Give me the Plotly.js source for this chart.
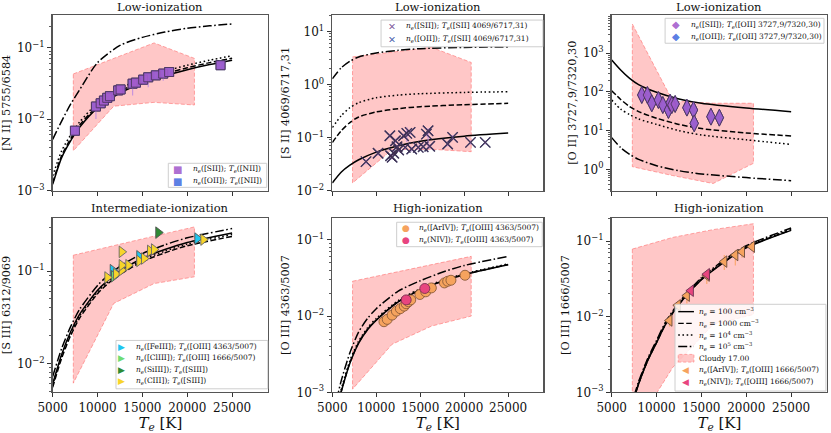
<!DOCTYPE html>
<html><head><meta charset="utf-8">
<script src="https://cdn.plot.ly/plotly-3.0.1.min.js"></script>
<style>html,body{margin:0;padding:0;background:#fff;}#chart{width:831px;height:433px;}</style>
</head><body><div id="chart"></div>
<script>
// ---------------- DATA ----------------
const X_TICKS = [5000, 10000, 15000, 20000, 25000];
const X_TICK_TEXT = ['5000', '10000', '15000', '20000', '25000'];

const CLOUDY_TE = [7300, 11800, 16300, 20800];

// Panel 1: [N II] 5755/6584
const TE_P1 = [5000, 6000, 7000, 8000, 10000, 12500, 15000, 17500, 20000, 22500, 25000];
const NII_NE1E2 = [0.00122, 0.00289, 0.00497, 0.00767, 0.0144, 0.0232, 0.0321, 0.0407, 0.0494, 0.0582, 0.067];
const NII_NE1E3 = [0.00128, 0.0031, 0.0053, 0.0082, 0.0153, 0.0246, 0.034, 0.0432, 0.0525, 0.062, 0.0715];
const NII_NE1E4 = [0.0016, 0.0036, 0.006, 0.0091, 0.0168, 0.0268, 0.0372, 0.047, 0.057, 0.067, 0.0775];
const NII_NE1E5 = [0.0052, 0.0094, 0.0162, 0.0258, 0.062, 0.108, 0.14, 0.166, 0.188, 0.203, 0.216];
const NII_CLOUDY_TOP = [0.043, 0.071, 0.117, 0.071];
const NII_CLOUDY_BOT = [0.0036, 0.0152, 0.0172, 0.0158];
const NII_OBS_TE = [7480, 9820, 10350, 10710, 11080, 11380, 12300, 12570, 13910, 14280, 15090, 15650, 16500, 17320, 17980, 23710];
const NII_OBS = [0.00689, 0.01503, 0.0167, 0.01823, 0.0199, 0.0210, 0.0253, 0.0261, 0.0314, 0.0325, 0.0358, 0.0386, 0.0411, 0.0435, 0.0458, 0.0570];
const NII_ERR_UP = [0.0008, 0.002, 0.002, 0.002, 0.002, 0.002, 0.003, 0.002, 0.003, 0.003, 0.003, 0.003, 0.003, 0.003, 0.003, 0.003];
const NII_ERR_DN = [0.0008, 0.005, 0.002, 0.002, 0.002, 0.002, 0.004, 0.002, 0.010, 0.003, 0.004, 0.0105, 0.003, 0.009, 0.004, 0.003];

// Panel 2: [S II] 4069/6717,31
const TE_P2 = [5000, 6000, 7000, 8000, 10000, 12500, 15000, 20000, 25000];
const SII_NE1E2 = [0.0139, 0.0221, 0.0300, 0.0380, 0.0530, 0.0700, 0.0850, 0.1060, 0.1210];
const SII_NE1E3 = [0.0805, 0.133, 0.191, 0.244, 0.303, 0.35, 0.381, 0.416, 0.44];
const SII_NE1E4 = [0.154, 0.255, 0.365, 0.453, 0.562, 0.63, 0.668, 0.708, 0.729];
const SII_NE1E5 = [1.28, 2.05, 2.74, 3.30, 3.93, 4.40, 4.73, 5.0, 5.1];
const SII_CLOUDY_TOP = [3.3, 4.1, 5.0, 2.6];
const SII_CLOUDY_BOT = [0.0139, 0.059, 0.06, 0.054];
const SII_OBS_TE = [8835, 10206, 11544, 11622, 11800, 11990, 12180, 12358, 12547, 13105, 13294, 13473, 13852, 14030, 14777, 15334, 15702, 15892, 16081, 18121, 18679, 20719, 22391];
const SII_OBS = [0.0350, 0.0503, 0.1076, 0.0454, 0.0424, 0.0503, 0.0867, 0.0670, 0.0581, 0.1076, 0.0652, 0.1194, 0.1247, 0.0605, 0.0652, 0.0670, 0.1159, 0.1336, 0.0681, 0.0752, 0.1005, 0.0809, 0.0809];
const SII_ERR_UP = [0.004, 0.005, 0.01, 0.004, 0.004, 0.005, 0.008, 0.006, 0.005, 0.01, 0.006, 0.035, 0.012, 0.006, 0.006, 0.006, 0.01, 0.015, 0.006, 0.007, 0.01, 0.007, 0.007];
const SII_ERR_DN = [0.004, 0.005, 0.01, 0.004, 0.004, 0.005, 0.008, 0.006, 0.005, 0.01, 0.006, 0.038, 0.012, 0.006, 0.006, 0.006, 0.01, 0.07, 0.006, 0.007, 0.01, 0.007, 0.007];

// Panel 3: [O II] 3727,9/7320,30
const TE_P3 = [5000, 6000, 7000, 8000, 10000, 12500, 15000, 20000, 25000];
const OII_NE1E2 = [673, 371, 225, 155, 98, 66, 51, 38.5, 31];
const OII_NE1E3 = [108, 64, 42, 31, 21, 14.5, 11.3, 8.7, 7.3];
const OII_NE1E4 = [62, 36, 26, 20, 14.5, 10, 7.7, 5.8, 4.4];
const OII_NE1E5 = [6.6, 3.63, 2.44, 1.81, 1.24, 0.92, 0.76, 0.61, 0.51];
const OII_CLOUDY_TOP = [5700, 58, 51, 51];
const OII_CLOUDY_BOT = [1.17, 0.69, 0.43, 1.43];
const OII_OBS_TE = [8352, 8978, 9469, 10207, 10698, 11324, 11514, 11704, 12073, 13380, 14117, 14196, 16061, 17000];
const OII_OBS = [83.4, 83.4, 50.9, 62, 46, 34.2, 52.7, 46, 48.9, 39.2, 34.2, 15.5, 22.9, 21.6];

// Panel 4: [S III] 6312/9069
const TE_P4 = [5000, 6000, 7000, 8000, 10000, 11000, 12500, 15000, 17500, 20000, 25000];
const SIII_NE1E2 = [0.006, 0.0125, 0.022, 0.034, 0.062, 0.077, 0.1, 0.138, 0.172, 0.205, 0.26];
const SIII_NE1E3 = [0.0055, 0.0114, 0.0200, 0.031, 0.057, 0.071, 0.092, 0.127, 0.158, 0.189, 0.238];
const SIII_NE1E4 = [0.0058, 0.012, 0.021, 0.0326, 0.0595, 0.074, 0.096, 0.132, 0.165, 0.197, 0.25];
const SIII_NE1E5 = [0.0072, 0.0145, 0.025, 0.0385, 0.07, 0.087, 0.113, 0.155, 0.193, 0.23, 0.29];
const SIII_CLOUDY_TOP = [0.149, 0.19, 0.24, 0.302];
const SIII_CLOUDY_BOT = [0.0061, 0.0447, 0.0734, 0.0869];
const SIII_FEIII_TE = [11690, 14650, 21120];
const SIII_FEIII = [0.1026, 0.145, 0.226];
const SIII_CLIII_TE = [11830];
const SIII_CLIII = [0.088];
const SIII_SIIII_TE = [16770];
const SIII_SIIII = [0.262];
const SIII_CIII_TE = [11090, 12060, 12690, 12690, 13430, 12690, 14650, 15180, 15850, 16290, 21790];
const SIII_CIII = [0.0855, 0.093, 0.1026, 0.116, 0.116, 0.162, 0.129, 0.137, 0.166, 0.172, 0.220];

// Panel 5: [O III] 4363/5007
const TE_P5 = [5500, 6000, 7000, 8000, 9000, 10000, 12500, 15000, 17500, 20000, 25000];
const OIII4363_NE1E2 = [0.0006, 0.001, 0.0024, 0.0044, 0.0066, 0.0088, 0.0153, 0.022, 0.0285, 0.0349, 0.0472];
const OIII4363_NE1E3 = [0.00061, 0.00102, 0.00245, 0.0045, 0.0067, 0.0089, 0.0155, 0.0222, 0.0287, 0.0351, 0.0475];
const OIII4363_NE1E4 = [0.00065, 0.00108, 0.0026, 0.0047, 0.007, 0.0093, 0.016, 0.0228, 0.0294, 0.0358, 0.0483];
const OIII4363_NE1E5 = [0.0008, 0.0014, 0.0033, 0.0062, 0.0093, 0.0125, 0.0212, 0.029, 0.0375, 0.046, 0.0607];
const OIII4363_CLOUDY_TOP = [0.0286, 0.0368, 0.0472, 0.0607];
const OIII4363_CLOUDY_BOT = [0.0011, 0.00427, 0.0074, 0.01];
const OIII4363_ARIV_TE = [10874, 11245, 11803, 12286, 12732, 13178, 13401, 13662, 13922, 14963, 15632, 16264, 17751, 18123, 18494, 20093];
const OIII4363_ARIV = [0.00843, 0.00905, 0.0103, 0.0116, 0.0125, 0.0135, 0.0145, 0.0154, 0.0163, 0.0192, 0.0208, 0.0234, 0.0272, 0.0286, 0.0295, 0.0343];
const OIII4363_NIV_TE = [13401, 15520];
const OIII4363_NIV = [0.0163, 0.0230];

// Panel 6: [O III] 1666/5007
const TE_P6 = [7500, 8000, 9000, 10000, 11000, 12500, 15000, 17500, 20000, 25000];
const OIII1666_NE1E2 = [0.00083, 0.00129, 0.0026, 0.00453, 0.0079, 0.0145, 0.0308, 0.0525, 0.0817, 0.139];
const OIII1666_NE1E3 = [0.00084, 0.0013, 0.00262, 0.00457, 0.008, 0.0147, 0.0311, 0.053, 0.0826, 0.141];
const OIII1666_NE1E4 = [0.00087, 0.00134, 0.0027, 0.0047, 0.0082, 0.015, 0.0318, 0.054, 0.084, 0.144];
const OIII1666_NE1E5 = [0.0009, 0.00138, 0.00278, 0.00485, 0.0085, 0.0155, 0.0328, 0.056, 0.087, 0.149];
const OIII1666_CLOUDY_TOP = [0.0785, 0.112, 0.142, 0.17];
const OIII1666_CLOUDY_BOT = [0.0003, 0.00213, 0.0079, 0.0107];
const OIII1666_ARIV_TE = [11443, 12374, 13380, 15600, 17551, 18780, 19525, 20642];
const OIII1666_ARIV = [0.00891, 0.01416, 0.0190, 0.0350, 0.0536, 0.0655, 0.0724, 0.0844];
const OIII1666_ERR_UP = [0.0015, 0.002, 0.003, 0.006, 0.012, 0.01, 0.01, 0.008];
const OIII1666_ERR_DN = [0.0015, 0.0025, 0.004, 0.008, 0.012, 0.018, 0.012, 0.01];
const OIII1666_NIV_TE = [13827, 15615];
const OIII1666_NIV = [0.0221, 0.0365];

const PANEL_TITLES = ['Low-ionization', 'Low-ionization', 'Low-ionization', 'Intermediate-ionization', 'High-ionization', 'High-ionization'];
const Y_TITLES = ['[N II] 5755/6584', '[S II] 4069/6717,31', '[O II] 3727,9/7320,30', '[S III] 6312/9069', '[O III] 4363/5007', '[O III] 1666/5007'];
const Y_RANGES = [[-3, -0.54], [-2, 1.31], [-0.548, 3.99], [-2.314, -0.42], [-3, -0.71], [-3, -0.69]];
const Y_DECADES = [[-3, -1], [-2, 1], [0, 3], [-2, -1], [-3, -1], [-3, -1]];

// ---------------- STYLE ----------------
const SERIF = 'DejaVu Serif, serif';
const COL_X = [[0.0634, 0.3225], [0.3999, 0.6538], [0.7361, 0.9952]];
const ROW_Y = [[0.5600, 0.9654], [0.0940, 0.4972]];
const DASH = {solid: 'solid', dashed: '5.5px,2.5px', dotted: '1.6px,2.6px', dashdot: '9px,2.5px,1.6px,2.5px'};
const SHADE_FILL = 'rgba(255,100,100,0.36)';
const SHADE_LINE = 'rgba(255,120,120,0.75)';
const PURPLE = 'rgba(163,92,204,0.9)';
const BLUE = 'rgba(70,110,225,0.9)';
const CYAN = '#1fc6ef', LGREEN = '#6fdc72', DGREEN = '#2e8b34', GOLD = '#f7d42a';
const ORANGE = '#f6a35e', PINK = '#e8457f';

function axn(i) { return i === 0 ? '' : String(i + 1); }

const traces = [];
function shade(i, top, bot) {
  traces.push({type: 'scatter', mode: 'lines', xaxis: 'x' + axn(i), yaxis: 'y' + axn(i),
    x: CLOUDY_TE.concat(CLOUDY_TE.slice().reverse()).concat([CLOUDY_TE[0]]),
    y: top.concat(bot.slice().reverse()).concat([top[0]]),
    fill: 'toself', fillcolor: SHADE_FILL, line: {color: SHADE_LINE, width: 0.9, dash: '4px,2px'},
    showlegend: false, hoverinfo: 'skip'});
}
function curves(i, te, arrs) {
  const dashes = [DASH.solid, DASH.dashed, DASH.dotted, DASH.dashdot];
  arrs.forEach((ys, k) => traces.push({type: 'scatter', mode: 'lines', xaxis: 'x' + axn(i), yaxis: 'y' + axn(i),
    x: te, y: ys, line: {color: '#000', width: 1.5, dash: dashes[k], shape: 'spline', smoothing: 0.7},
    showlegend: false, hoverinfo: 'skip'}));
}
function pts(i, xs, ys, symbol, color, size, edge, errUp, errDn, errColor) {
  const t = {type: 'scatter', mode: 'markers', xaxis: 'x' + axn(i), yaxis: 'y' + axn(i), x: xs, y: ys,
    marker: {symbol: symbol, color: color, size: size, line: {color: edge, width: 0.9}},
    showlegend: false, hoverinfo: 'skip'};
  if (errUp) t.error_y = {type: 'data', symmetric: false, array: errUp, arrayminus: errDn, color: errColor, thickness: 1.2, width: 0};
  traces.push(t);
}

// Panel 1
shade(0, NII_CLOUDY_TOP, NII_CLOUDY_BOT);
curves(0, TE_P1, [NII_NE1E2, NII_NE1E3, NII_NE1E4, NII_NE1E5]);
pts(0, NII_OBS_TE, NII_OBS, 'square', BLUE, 9, '#3a3a6a');
pts(0, NII_OBS_TE, NII_OBS, 'square', PURPLE, 9, '#4d3560', NII_ERR_UP, NII_ERR_DN, 'rgba(190,140,225,0.85)');
// Panel 2
shade(1, SII_CLOUDY_TOP, SII_CLOUDY_BOT);
curves(1, TE_P2, [SII_NE1E2, SII_NE1E3, SII_NE1E4, SII_NE1E5]);
pts(1, SII_OBS_TE, SII_OBS, 'x-thin', 'rgba(60,70,140,0.9)', 10, 'rgba(60,70,140,0.9)');
traces[traces.length - 1].marker.line.width = 1.3;
pts(1, SII_OBS_TE, SII_OBS, 'x-thin', 'rgba(60,45,75,0.85)', 10.5, 'rgba(60,45,75,0.85)', SII_ERR_UP, SII_ERR_DN, 'rgba(190,140,225,0.85)');
traces[traces.length - 1].marker.line.width = 1.3;
// Panel 3
shade(2, OII_CLOUDY_TOP, OII_CLOUDY_BOT);
curves(2, TE_P3, [OII_NE1E2, OII_NE1E3, OII_NE1E4, OII_NE1E5]);
pts(2, OII_OBS_TE, OII_OBS, 'diamond-tall', BLUE, 12, '#3a3a6a');
pts(2, OII_OBS_TE, OII_OBS, 'diamond-tall', PURPLE, 12, '#4d3560');
// Panel 4
shade(3, SIII_CLOUDY_TOP, SIII_CLOUDY_BOT);
curves(3, TE_P4, [SIII_NE1E2, SIII_NE1E3, SIII_NE1E4, SIII_NE1E5]);
pts(3, SIII_FEIII_TE, SIII_FEIII, 'triangle-right', CYAN, 10, '#555');
pts(3, SIII_CLIII_TE, SIII_CLIII, 'triangle-right', LGREEN, 10, '#555');
pts(3, SIII_SIIII_TE, SIII_SIIII, 'triangle-right', DGREEN, 10, '#555');
pts(3, SIII_CIII_TE, SIII_CIII, 'triangle-right', GOLD, 10, '#666');
// Panel 5
shade(4, OIII4363_CLOUDY_TOP, OIII4363_CLOUDY_BOT);
curves(4, TE_P5, [OIII4363_NE1E2, OIII4363_NE1E3, OIII4363_NE1E4, OIII4363_NE1E5]);
pts(4, OIII4363_ARIV_TE, OIII4363_ARIV, 'circle', ORANGE, 10, '#8a5a3a');
pts(4, OIII4363_NIV_TE, OIII4363_NIV, 'circle', PINK, 10, '#7a3050');
// Panel 6
shade(5, OIII1666_CLOUDY_TOP, OIII1666_CLOUDY_BOT);
curves(5, TE_P6, [OIII1666_NE1E2, OIII1666_NE1E3, OIII1666_NE1E4, OIII1666_NE1E5]);
pts(5, OIII1666_ARIV_TE, OIII1666_ARIV, 'triangle-left', ORANGE, 10, '#6a4a3a', OIII1666_ERR_UP, OIII1666_ERR_DN, 'rgba(250,160,90,0.8)');
pts(5, OIII1666_NIV_TE, OIII1666_NIV, 'triangle-left', PINK, 10, '#6a3050');

// ---------------- LAYOUT ----------------
const layout = {width: 831, height: 433, margin: {l: 0, r: 0, t: 0, b: 0}, paper_bgcolor: '#fff', plot_bgcolor: '#fff',
  showlegend: false, font: {family: SERIF, color: '#111'}, shapes: [], annotations: []};

for (let i = 0; i < 6; i++) {
  const col = i % 3, row = Math.floor(i / 3);
  const xa = {domain: COL_X[col], anchor: 'y' + axn(i), range: [5000, 29000], tickmode: 'array',
    tickvals: X_TICKS, ticktext: X_TICK_TEXT, showticklabels: row === 1, ticks: 'outside', ticklen: 4, tickwidth: 1,
    tickcolor: '#333', showline: true, mirror: true, linecolor: '#555', linewidth: 1.2, showgrid: false, zeroline: false,
    tickfont: {family: SERIF, size: 12, color: '#111'}};
  if (row === 1) xa.title = {text: '<i>T</i><sub><i>e</i></sub> [K]', font: {family: SERIF, size: 15, color: '#111'}, standoff: 2};
  const dec = Y_DECADES[i];
  const majors = [], labels = [], minors = [];
  for (let p = dec[0]; p <= dec[1]; p++) {
    majors.push(Math.pow(10, p));
    labels.push('10<sup>' + (p < 0 ? '\u2212' + (-p) : p) + '</sup>');
  }
  for (let p = dec[0] - 1; p <= dec[1] + 1; p++) for (let k = 2; k <= 9; k++) minors.push(k * Math.pow(10, p));
  const ya = {domain: ROW_Y[row], anchor: 'x' + axn(i), type: 'log', range: Y_RANGES[i], tickmode: 'array',
    tickvals: majors, ticktext: labels, ticks: 'outside', ticklen: 4.5, tickwidth: 1, tickcolor: '#333',
    minor: {tickmode: 'array', tickvals: minors, ticks: 'outside', ticklen: 2.5, tickwidth: 0.8, tickcolor: '#333'},
    showline: true, mirror: true, linecolor: '#555', linewidth: 1.2, showgrid: false, zeroline: false,
    tickfont: {family: SERIF, size: 12, color: '#111'},
    title: {text: Y_TITLES[i], font: {family: SERIF, size: 11.3, color: '#111'}, standoff: 4}};
  layout['xaxis' + axn(i)] = xa;
  layout['yaxis' + axn(i)] = ya;
  layout.annotations.push({text: PANEL_TITLES[i], xref: 'x' + axn(i) + ' domain', yref: 'y' + axn(i) + ' domain',
    x: 0.5, y: 1, yanchor: 'middle', yshift: row === 0 ? 8 : 10, showarrow: false,
    font: {family: SERIF, size: 11.5, color: '#111'}});
}

// ---------------- CUSTOM LEGENDS ----------------
const NE = '<i>n</i><sub><i>e</i></sub>', TEL = '<i>T</i><sub><i>e</i></sub>';
function legend(i, box, rows, symX, lineX, textX, entries) {
  const xr = 'x' + axn(i) + ' domain', yr = 'y' + axn(i) + ' domain';
  layout.shapes.push({type: 'rect', xref: xr, yref: yr, x0: box[0], x1: box[1], y0: box[2], y1: box[3],
    fillcolor: 'rgba(255,255,255,0.82)', line: {color: '#c8c8c8', width: 0.9}, layer: 'above'});
  entries.forEach((e, k) => {
    const y = rows[k];
    if (e.kind === 'glyph') {
      layout.annotations.push({text: e.ch, xref: xr, yref: yr, x: symX, y: y, xanchor: 'center', yanchor: 'middle',
        showarrow: false, borderpad: 0, font: {family: 'DejaVu Sans', size: e.size, color: e.color}});
    } else if (e.kind === 'line') {
      layout.shapes.push({type: 'line', xref: xr, yref: yr, x0: lineX[0], x1: lineX[1], y0: y, y1: y,
        line: {color: '#000', width: 1.4, dash: e.dash}, layer: 'above'});
    } else if (e.kind === 'patch') {
      layout.shapes.push({type: 'rect', xref: xr, yref: yr, x0: lineX[0], x1: lineX[1], y0: y - 0.022, y1: y + 0.022,
        fillcolor: SHADE_FILL, line: {color: SHADE_LINE, width: 0.8, dash: '3px,2px'}, layer: 'above'});
    }
    layout.annotations.push({text: e.text, xref: xr, yref: yr, x: textX, y: y, xanchor: 'left', yanchor: 'middle',
      showarrow: false, borderpad: 0, font: {family: SERIF, size: 7.5, color: '#111'}});
  });
}
legend(0, [0.537, 0.994, 0.018, 0.155], [0.121, 0.054], 0.579, null, 0.646, [
  {kind: 'glyph', ch: '\u25A0', size: 10, color: PURPLE, text: NE + '([SII]); ' + TEL + '([NII])'},
  {kind: 'glyph', ch: '\u25A0', size: 10, color: BLUE, text: NE + '([OII]); ' + TEL + '([NII])'}]);
legend(1, [0.231, 0.998, 0.819, 0.971], [0.937, 0.862], 0.281, null, 0.345, [
  {kind: 'glyph', ch: '\u2715', size: 9.5, color: 'rgba(120,80,150,0.95)', text: NE + '([SII]); ' + TEL + '([SII] 4069/6717,31)'},
  {kind: 'glyph', ch: '\u2715', size: 9.5, color: 'rgba(70,90,170,0.95)', text: NE + '([OII]); ' + TEL + '([SII] 4069/6717,31)'}]);
legend(2, [0.248, 0.986, 0.839, 0.981], [0.943, 0.876], 0.299, null, 0.364, [
  {kind: 'glyph', ch: '\u25C6', size: 10, color: PURPLE, text: NE + '([SII]); ' + TEL + '([OII] 3727,9/7320,30)'},
  {kind: 'glyph', ch: '\u25C6', size: 10, color: BLUE, text: NE + '([OII]); ' + TEL + '([OII] 3727,9/7320,30)'}]);
legend(3, [0.294, 0.999, 0.02, 0.297], [0.262, 0.196, 0.13, 0.064], 0.32, null, 0.382, [
  {kind: 'glyph', ch: '\u25B6', size: 9, color: CYAN, text: NE + '([FeIII]); ' + TEL + '([OIII] 4363/5007)'},
  {kind: 'glyph', ch: '\u25B6', size: 9, color: LGREEN, text: NE + '([ClIII]); ' + TEL + '([OIII] 1666/5007)'},
  {kind: 'glyph', ch: '\u25B6', size: 9, color: DGREEN, text: NE + '(SiIII]); ' + TEL + '([SIII])'},
  {kind: 'glyph', ch: '\u25B6', size: 9, color: GOLD, text: NE + '(CIII]); ' + TEL + '([SIII])'}]);
legend(4, [0.305, 0.995, 0.834, 0.974], [0.939, 0.872], 0.348, null, 0.408, [
  {kind: 'glyph', ch: '\u25CF', size: 9, color: ORANGE, text: NE + '([ArIV]); ' + TEL + '([OIII] 4363/5007)'},
  {kind: 'glyph', ch: '\u25CF', size: 9, color: PINK, text: NE + '(NIV]); ' + TEL + '([OIII] 4363/5007)'}]);
legend(5, [0.294, 0.995, 0.007, 0.504], [0.462, 0.395, 0.328, 0.262, 0.195, 0.128, 0.061], 0.345, [0.309, 0.382], 0.402, [
  {kind: 'line', dash: DASH.solid, text: NE + ' = 100 cm<sup>\u22123</sup>'},
  {kind: 'line', dash: DASH.dashed, text: NE + ' = 1000 cm<sup>\u22123</sup>'},
  {kind: 'line', dash: DASH.dotted, text: NE + ' = 10<sup>4</sup> cm<sup>\u22123</sup>'},
  {kind: 'line', dash: DASH.dashdot, text: NE + ' = 10<sup>5</sup> cm<sup>\u22123</sup>'},
  {kind: 'patch', text: 'Cloudy 17.00'},
  {kind: 'glyph', ch: '\u25C0', size: 9, color: ORANGE, text: NE + '([ArIV]); ' + TEL + '([OIII] 1666/5007)'},
  {kind: 'glyph', ch: '\u25C0', size: 9, color: PINK, text: NE + '(NIV]); ' + TEL + '([OIII] 1666/5007)'}]);

Plotly.newPlot('chart', traces, layout, {displayModeBar: false, staticPlot: true});
</script></body></html>
